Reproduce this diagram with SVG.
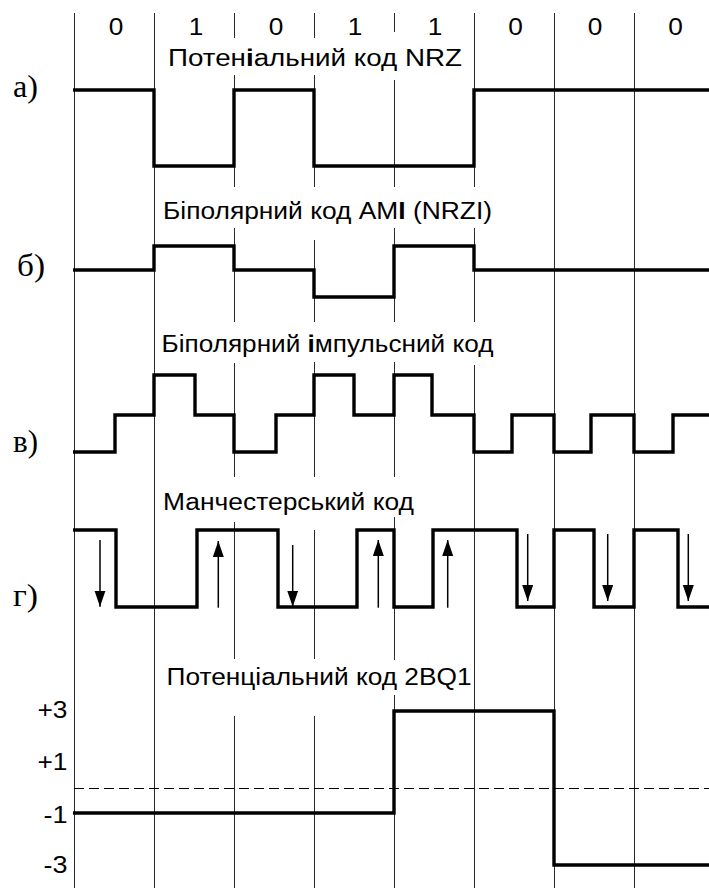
<svg xmlns="http://www.w3.org/2000/svg" width="709" height="888" viewBox="0 0 709 888">
  <style>
    .grid { fill: none; stroke: #2a2a2a; stroke-width: 1; }
    .wave { fill: none; stroke: #000; stroke-width: 3.4; stroke-linejoin: miter; stroke-linecap: butt; }
    .dash { fill: none; stroke: #000; stroke-width: 1; stroke-dasharray: 10 5; }
    .arrow { fill: none; stroke: #000; stroke-width: 1.5; marker-end: url(#head); }
    .lbl { font-family: "Liberation Sans", Arial, sans-serif; font-size: 23.5px; fill: #000; }
    .row { font-family: "Liberation Serif", "Times New Roman", serif; font-size: 32px; fill: #000; }
    .b { font-weight: bold; }
  </style>
  <defs>
    <marker id="head" markerUnits="userSpaceOnUse" markerWidth="17" markerHeight="12" refX="16" refY="5.5" orient="auto">
      <path d="M0,0 L16,5.5 L0,11 Z" fill="#000"/>
    </marker>
  </defs>
  <rect width="709" height="888" fill="#fff"/>

  <!-- bit interval boundaries, broken where the captions sit -->
  <g id="grid" class="grid">
    <path d="M74.5,13 V888"/>
    <path d="M154.5,13 V888"/>
    <path d="M234.5,13 V38 M234.5,75 V187 M234.5,228 V322 M234.5,363 V477 M234.5,522 V659 M234.5,716 V888"/>
    <path d="M314.5,13 V38 M314.5,75 V187 M314.5,240 V322 M314.5,362 V477 M314.5,530 V659 M314.5,716 V888"/>
    <path d="M394.5,13 V32 M394.5,80 V187 M394.5,228 V322 M394.5,362 V477 M394.5,517 V660 M394.5,695 V888"/>
    <path d="M474.5,13 V187 M474.5,228 V322 M474.5,365 V888"/>
    <path d="M554.5,13 V888"/>
    <path d="M634.5,13 V888"/>
  </g>

  <!-- bit sequence -->
  <g id="bits" class="lbl" text-anchor="middle">
    <text x="116" y="35" textLength="14.6" lengthAdjust="spacingAndGlyphs">0</text>
    <text x="196" y="35" textLength="14.6" lengthAdjust="spacingAndGlyphs">1</text>
    <text x="276" y="35" textLength="14.6" lengthAdjust="spacingAndGlyphs">0</text>
    <text x="355" y="35" textLength="14.6" lengthAdjust="spacingAndGlyphs">1</text>
    <text x="435" y="35" textLength="14.6" lengthAdjust="spacingAndGlyphs">1</text>
    <text x="515.5" y="35" textLength="14.6" lengthAdjust="spacingAndGlyphs">0</text>
    <text x="595" y="35" textLength="14.6" lengthAdjust="spacingAndGlyphs">0</text>
    <text x="675.5" y="35" textLength="14.6" lengthAdjust="spacingAndGlyphs">0</text>
  </g>

  <!-- row markers -->
  <g id="rows" class="row">
    <text x="13" y="96.5" textLength="25" lengthAdjust="spacingAndGlyphs">а)</text>
    <text x="17" y="276" textLength="28" lengthAdjust="spacingAndGlyphs">б)</text>
    <text x="13" y="452" textLength="25" lengthAdjust="spacingAndGlyphs">в)</text>
    <text x="13" y="606" textLength="25" lengthAdjust="spacingAndGlyphs">г)</text>
  </g>

  <!-- code captions -->
  <g id="captions" class="lbl">
    <text x="168" y="66" textLength="294" lengthAdjust="spacingAndGlyphs">Потен<tspan class="b">і</tspan>альний код NRZ</text>
    <text x="163" y="218.5" textLength="329" lengthAdjust="spacingAndGlyphs">Біполярний код AM<tspan class="b">I</tspan> (NRZI)</text>
    <text x="161.5" y="352" textLength="332" lengthAdjust="spacingAndGlyphs">Біполярний <tspan class="b">і</tspan>мпульсний код</text>
    <text x="163" y="510" textLength="251" lengthAdjust="spacingAndGlyphs">Манчестерський код</text>
    <text x="166.5" y="685" textLength="305" lengthAdjust="spacingAndGlyphs">Потенціальний код 2BQ1</text>
  </g>

  <!-- level scale for 2BQ1 -->
  <g id="levels" class="lbl" text-anchor="end">
    <text x="67.5" y="718" textLength="30" lengthAdjust="spacingAndGlyphs">+3</text>
    <text x="67.5" y="769.5" textLength="30" lengthAdjust="spacingAndGlyphs">+1</text>
    <text x="67.5" y="822.5" textLength="24" lengthAdjust="spacingAndGlyphs">-1</text>
    <text x="67.5" y="873" textLength="24" lengthAdjust="spacingAndGlyphs">-3</text>
  </g>
  <path id="zero-level" class="dash" d="M74,788.5 H709"/>

  <!-- signal waveforms -->
  <g id="wave-nrz">
    <path class="wave" d="M73,90 H154 V166 H234 V90 H314 V166 H474 V90 H709"/>
  </g>
  <g id="wave-ami">
    <path class="wave" d="M73,270 H154 V246 H234 V270 H314 V297 H394 V246 H474 V270 H709"/>
  </g>
  <g id="wave-bipolar-pulse">
    <path class="wave" d="M73,452 H115 V415 H154 V375 H195 V415 H234 V452 H276 V415 H314 V375 H354 V415 H394 V375 H432 V415 H474 V452 H512 V415 H554 V452 H591 V415 H634 V452 H673 V415 H709"/>
  </g>
  <g id="wave-manchester">
    <path class="wave" d="M73,530 H116 V607 H197 V530 H278 V607 H357 V530 H394 V607 H433 V530 H517 V607 H554 V530 H594 V607 H634 V530 H678 V607 H709"/>
  </g>
  <g id="wave-2bq1">
    <path class="wave" d="M73,813 H394 V711 H554 V865 H709"/>
  </g>

  <!-- mid-bit transition directions -->
  <g id="connectors">
    <path class="arrow" d="M100,540 V606.7"/>
    <path class="arrow" d="M218.3,607.7 V541"/>
    <path class="arrow" d="M292.7,545 V606.7"/>
    <path class="arrow" d="M378.3,607.7 V540"/>
    <path class="arrow" d="M447.7,607.7 V540"/>
    <path class="arrow" d="M527.7,534 V601"/>
    <path class="arrow" d="M607.7,534 V601"/>
    <path class="arrow" d="M688.3,534 V601"/>
  </g>
</svg>
